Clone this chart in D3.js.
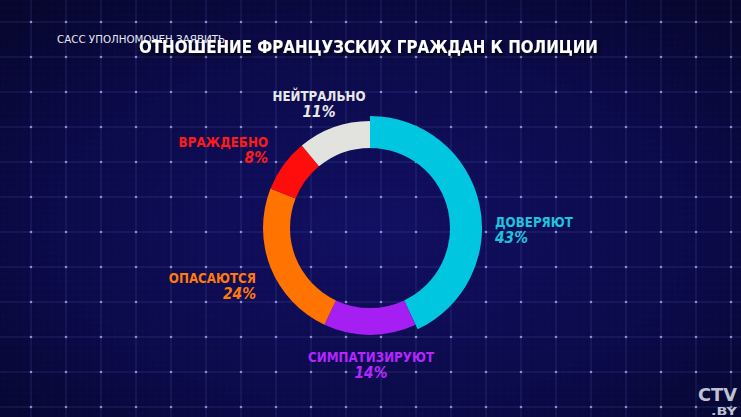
<!DOCTYPE html>
<html>
<head>
<meta charset="utf-8">
<script src="https://cdn.jsdelivr.net/npm/d3@7"></script>
<style>
  html, body { margin: 0; padding: 0; background: #08083a; overflow: hidden; }
  svg { display: block; }
</style>
</head>
<body>
<div id="chart"></div>
<script>
// survey data
const categories = ["ДОВЕРЯЮТ", "СИМПАТИЗИРУЮТ", "ОПАСАЮТСЯ", "ВРАЖДЕБНО", "НЕЙТРАЛЬНО"];
const values = [43, 14, 24, 8, 11];
const colors = ["#00c6df", "#a51ff2", "#ff7300", "#ff0d0d", "#e2e2de"];
const labelColors = ["#1ec3de", "#b526ff", "#ff7a0a", "#ff1a1a", "#e8e8e8"];

const W = 741, H = 417;
const cx = 370, cy = 228;

const svg = d3.select("#chart").append("svg")
    .attr("width", W).attr("height", H);

const defs = svg.append("defs");
const bg = defs.append("radialGradient").attr("id", "bg")
    .attr("cx", "50%").attr("cy", "55%").attr("r", "70%");
bg.append("stop").attr("offset", "0%").attr("stop-color", "#110f62");
bg.append("stop").attr("offset", "60%").attr("stop-color", "#0b0a4a");
bg.append("stop").attr("offset", "100%").attr("stop-color", "#06062e");

const shadow = defs.append("filter").attr("id", "shadow")
    .attr("x", "-20%").attr("y", "-50%").attr("width", "140%").attr("height", "200%");
shadow.append("feDropShadow").attr("dx", 2).attr("dy", 3)
    .attr("stdDeviation", 2).attr("flood-color", "#000").attr("flood-opacity", 0.8);

svg.append("rect").attr("width", W).attr("height", H).attr("fill", "url(#bg)");

// background grid: faint minor lines, major lines every 35px, sparkles at crossings
const step = 35, x0 = -4, y0 = -13;
const grid = svg.append("g");
d3.range(x0, W, step / 5).forEach(x => {
    grid.append("line").attr("x1", x).attr("x2", x).attr("y1", 0).attr("y2", H)
        .attr("stroke", "#4a50a0").attr("stroke-opacity", 0.06);
});
d3.range(y0, H, step / 5).forEach(y => {
    grid.append("line").attr("x1", 0).attr("x2", W).attr("y1", y).attr("y2", y)
        .attr("stroke", "#4a50a0").attr("stroke-opacity", 0.06);
});
d3.range(x0, W, step).forEach(x => {
    grid.append("line").attr("x1", x).attr("x2", x).attr("y1", 0).attr("y2", H)
        .attr("stroke", "#6068c0").attr("stroke-opacity", 0.25);
});
d3.range(y0, H, step).forEach(y => {
    grid.append("line").attr("x1", 0).attr("x2", W).attr("y1", y).attr("y2", y)
        .attr("stroke", "#6068c0").attr("stroke-opacity", 0.25);
});
d3.range(x0, W, step).forEach(x => {
    d3.range(y0, H, step).forEach(y => {
        grid.append("circle").attr("cx", x).attr("cy", y).attr("r", 1.3)
            .attr("fill", "#b8bcff").attr("opacity", 0.7);
    });
});

// titles
svg.append("text").attr("x", 57).attr("y", 43)
    .attr("font-family", "'DejaVu Sans', sans-serif")
    .attr("font-size", 11).attr("fill", "#e8e8f0")
    .attr("textLength", 168).attr("lengthAdjust", "spacingAndGlyphs")
    .text("САСС УПОЛНОМОЧЕН ЗАЯВИТЬ");
svg.append("text").attr("x", 139).attr("y", 53)
    .attr("font-family", "'DejaVu Sans', sans-serif")
    .attr("font-weight", "bold").attr("font-size", 18).attr("fill", "#ffffff")
    .attr("textLength", 459).attr("lengthAdjust", "spacingAndGlyphs")
    .attr("filter", "url(#shadow)")
    .text("ОТНОШЕНИЕ ФРАНЦУЗСКИХ ГРАЖДАН К ПОЛИЦИИ");

// donut
const pie = d3.pie().sort(null).value(d => d).startAngle(0).endAngle(2 * Math.PI);
const arcs = pie(values);
const arcBig = d3.arc().innerRadius(80).outerRadius(112);
const arcSmall = d3.arc().innerRadius(80).outerRadius(107);

const donut = svg.append("g").attr("transform", `translate(${cx},${cy})`);
donut.selectAll("path")
    .data(arcs)
    .enter()
    .append("path")
    .attr("d", (d, i) => i === 0 ? arcBig(d) : arcSmall(d))
    .attr("fill", (d, i) => colors[i]);

// labels (name baseline, percent baseline below it)
const labelPos = [
    { x: 495, y: 227, anchor: "start" },
    { x: 371, y: 362, anchor: "middle" },
    { x: 256, y: 283, anchor: "end" },
    { x: 268, y: 147, anchor: "end" },
    { x: 319, y: 101, anchor: "middle" }
];
const labels = svg.append("g")
    .attr("font-family", "'DejaVu Sans', sans-serif")
    .attr("font-weight", "bold");
categories.forEach((c, i) => {
    const p = labelPos[i];
    labels.append("g").attr("transform", `translate(${p.x},${p.y}) scale(0.85,1)`)
        .append("text").attr("text-anchor", p.anchor).attr("font-size", 14)
        .attr("fill", labelColors[i]).text(c);
    labels.append("g").attr("transform", `translate(${p.x},${p.y + 16}) scale(0.92,1)`)
        .append("text").attr("text-anchor", p.anchor).attr("font-size", 15)
        .attr("font-style", "italic")
        .attr("fill", labelColors[i]).text(values[i] + "%");
});

// channel logo
const logo = svg.append("g").attr("fill", "#bfc2d2")
    .attr("font-family", "'DejaVu Sans', sans-serif").attr("font-weight", "bold");
logo.append("text").attr("x", 698).attr("y", 401)
    .attr("font-size", 18).attr("textLength", 39).attr("lengthAdjust", "spacingAndGlyphs")
    .text("CTV");
logo.append("text").attr("x", 711).attr("y", 415)
    .attr("font-size", 10).attr("textLength", 26).attr("lengthAdjust", "spacingAndGlyphs")
    .text(".BY");
</script>
</body>
</html>
